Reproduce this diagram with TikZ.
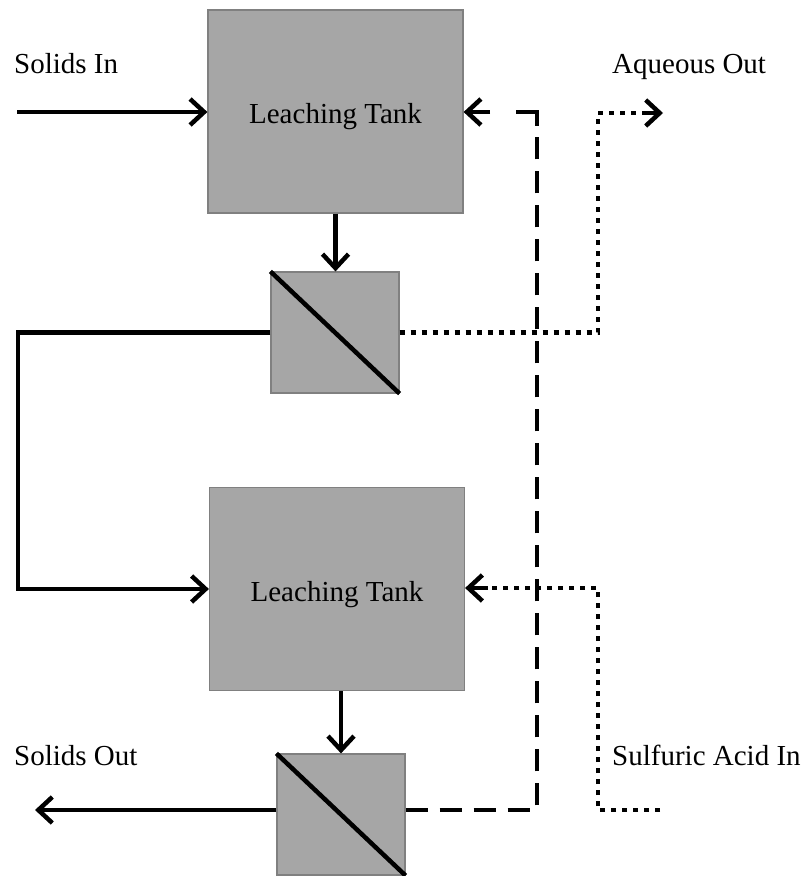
\documentclass[tikz,border=0pt]{standalone}
\usepackage{fontspec}
\setmainfont{Liberation Serif}
\usetikzlibrary{arrows.meta,calc}
\definecolor{tankfill}{HTML}{A6A6A6}
\definecolor{tankedge}{HTML}{808080}
\begin{document}
\begin{tikzpicture}[x=1pt,y=-1pt,
  tank/.style={draw=tankedge,line width=1.2pt,fill=tankfill,minimum width=255pt,minimum height=203pt,inner sep=0pt,text height=24pt,text depth=0pt,font=\fontsize{29}{34}\selectfont},
  filterbox/.style={draw=tankedge,line width=1.2pt,fill=tankfill,minimum width=128pt,minimum height=121pt,inner sep=0pt},
  lbl/.style={anchor=base west,inner sep=0pt,font=\fontsize{29}{34}\selectfont},
  tip/.style={-{Straight Barb[length=14pt,width=26pt,line width=4.5pt]}},
  flow/.style={line width=4.5pt,tip},
  dotflow/.style={line width=4.5pt,dash pattern=on 5pt off 6pt},
  dashflow/.style={line width=4.5pt,dash pattern=on 22pt off 12pt}
]
\useasboundingbox (0,0) rectangle (808,876);
\node[tank] (t1) at (335.5,111.5) {Leaching Tank};
\node[filterbox] (f1) at (335,332.5) {};
\node[tank] (t2) at (337,589) {Leaching Tank};
\node[filterbox] (f2) at (341,814.5) {};
\draw[line width=4.5pt] (f1.north west) -- (f1.south east);
\draw[line width=4.5pt] (f2.north west) -- (f2.south east);

\node[lbl] (lsin) at (14,73) {Solids In};
\node[lbl] (laq) at (612,73) {Aqueous Out};
\node[lbl] (lsout) at (14,765) {Solids Out};
\node[lbl] (lacid) at (612,765) {Sulfuric Acid In};

\coordinate (sin) at (17,112);
\coordinate (aqout) at (663,113);
\coordinate (sout) at (35,810);
\coordinate (acid) at (660,810);

% solid flows
\draw[flow] (sin) -- (t1.west |- sin);
\draw[flow] (t1.south) -- (t1.south |- f1.north);
\draw[flow] (f1.west) -- (18,332.5) |- (t2.west);
\draw[flow] (f2.north |- t2.south) -- (f2.north);
\draw[flow] (f2.west |- sout) -- (sout);

% aqueous out (dotted)
\draw[dotflow] (f1.east) -- (598,332.5) |- ($(aqout)+(-18,0)$);
\draw[flow] ($(aqout)+(-18,0)$) -- (aqout);

% recycle (dashed)
\draw[dashflow] (f2.east |- sout) -- (537,810) -- (537,137);
\draw[line width=4.5pt] (516,112) -- (537,112) -- (537,126);
\draw[flow] (490,112) -- (t1.east |- 0,112);

% sulfuric acid in (dotted)
\draw[dotflow] (acid) -- (598,810) -- (598,588) -- (488,588);
\draw[flow] (488,588) -- (t2.east |- 0,588);
\end{tikzpicture}
\end{document}
